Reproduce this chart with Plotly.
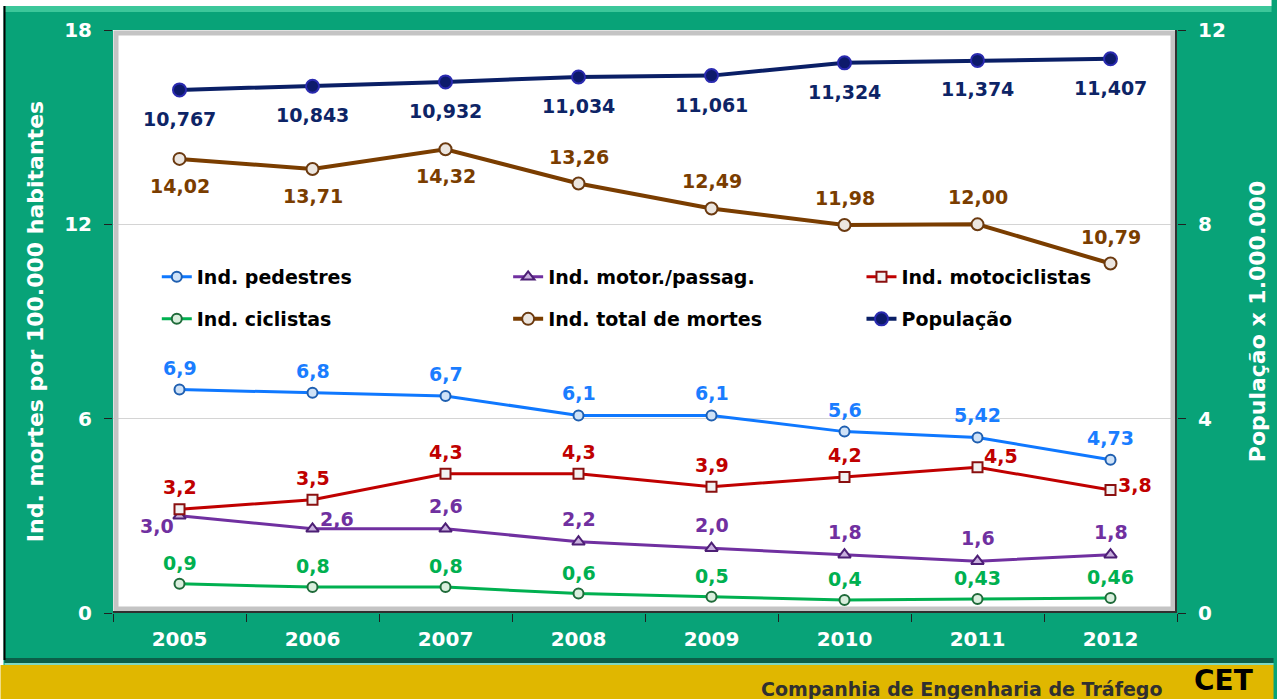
import plotly.graph_objects as go

years = ["2005", "2006", "2007", "2008", "2009", "2010", "2011", "2012"]
pedestres = [6.9, 6.8, 6.7, 6.1, 6.1, 5.6, 5.42, 4.73]
motor_passag = [3.0, 2.6, 2.6, 2.2, 2.0, 1.8, 1.6, 1.8]
motociclistas = [3.2, 3.5, 4.3, 4.3, 3.9, 4.2, 4.5, 3.8]
ciclistas = [0.9, 0.8, 0.8, 0.6, 0.5, 0.4, 0.43, 0.46]
total_mortes = [14.02, 13.71, 14.32, 13.26, 12.49, 11.98, 12.00, 10.79]
populacao = [10.767, 10.843, 10.932, 11.034, 11.061, 11.324, 11.374, 11.407]

W, H = 1277, 699
PX0, PX1, PY0, PY1 = 113, 1182, 30, 613


def px(x):
    return (x - PX0) / (PX1 - PX0)


def py(y):
    return (PY1 - y) / (PY1 - PY0)


FONT = "DejaVu Sans, Verdana, sans-serif"
GREEN_BG = "#08a378"

fig = go.Figure()
annotations = []


def fmt(v, dec):
    return f"{v:.{dec}f}".replace(".", ",")


def add(name, y, color, lw, symbol, fill, edge, size, legend, decs, shifts, yaxis="y", tcolor=None):
    fig.add_trace(go.Scatter(
        x=years, y=y, name=name, mode="lines+markers",
        line=dict(color=color, width=lw),
        marker=dict(symbol=symbol, size=size, color=fill, line=dict(color=edge, width=2)),
        legend=legend, yaxis=yaxis, cliponaxis=False,
    ))
    for i, yv in enumerate(y):
        dx, dy = shifts[i]
        annotations.append(dict(
            x=i, y=yv, xref="x", yref=yaxis, text=fmt(yv, decs[i]), showarrow=False,
            xanchor="center", yanchor="middle", xshift=dx, yshift=dy,
            font=dict(family=FONT, size=19, color=tcolor or color, weight="bold"),
        ))


add("Ind. pedestres", pedestres, "#0f78ff", 3, "circle", "#cfe2f7", "#1f5fb0", 10, "legend",
    [1] * 6 + [2] * 2, [(0, 22)] * 8, tcolor="#1a7dff")
add("Ind. motor./passag.", motor_passag, "#7030a0", 3, "triangle-up", "#c8b0dd", "#4d1f75", 11, "legend2",
    [1] * 8, [(-23, -10), (24, 10)] + [(0, 23)] * 6)
add("Ind. motociclistas", motociclistas, "#c00000", 3, "square", "#f2f2f2", "#8a1010", 10, "legend3",
    [1] * 8, [(0, 22)] * 6 + [(23, 11), (24, 5)])
add("Ind. ciclistas", ciclistas, "#00b050", 3, "circle", "#d9eedd", "#1f6b3a", 10, "legend4",
    [1] * 6 + [2] * 2, [(0, 21)] * 8)
add("Ind. total de mortes", total_mortes, "#7a3d00", 4, "circle", "#ece6e0", "#6b3a10", 12, "legend5",
    [2] * 8, [(0, -27)] * 3 + [(0, 27)] * 5)
add("População", populacao, "#0a1f66", 4, "circle", "#0d1a6b", "#2a2ab0", 13, "legend6",
    [3] * 8, [(0, -29)] * 8, yaxis="y2", tcolor="#0d2466")

tickfont = dict(family=FONT, size=20, color="white", weight="bold")

shapes = [
    dict(type="rect", xref="paper", yref="paper", x0=px(0), x1=px(W), y0=py(6), y1=py(-2),
         fillcolor="white", line_width=0, layer="below"),
    dict(type="rect", xref="paper", yref="paper", x0=px(-2), x1=px(3), y0=py(700), y1=py(0),
         fillcolor="white", line_width=0, layer="below"),
    dict(type="line", xref="paper", yref="paper", x0=px(4), x1=px(4), y0=py(660), y1=py(6),
         line=dict(color="black", width=2)),
    dict(type="rect", xref="paper", yref="paper", x0=px(4), x1=px(W), y0=py(12), y1=py(6),
         fillcolor="#3cc79a", line_width=0, layer="below"),
    dict(type="rect", xref="paper", yref="paper", x0=px(4), x1=px(W + 2), y0=py(663), y1=py(658),
         fillcolor="#0b5e48", line_width=0, layer="below"),
    dict(type="rect", xref="paper", yref="paper", x0=px(4), x1=px(W + 2), y0=py(665), y1=py(663),
         fillcolor="#7fd8c0", line_width=0, layer="below"),
    dict(type="rect", xref="paper", yref="paper", x0=px(0), x1=px(W + 2), y0=py(H + 2), y1=py(665),
         fillcolor="#e0b700", line_width=0, layer="below"),
    dict(type="rect", xref="paper", yref="paper", x0=px(PX0 + 3), x1=px(PX1 - 4), y0=py(PY1 - 4), y1=py(PY0 + 3),
         line=dict(color="#c4c4c4", width=5), layer="above"),
    dict(type="line", xref="paper", yref="paper", x0=px(PX1 - 1), x1=px(PX1 - 1), y0=py(PY1), y1=py(PY0),
         line=dict(color="#303030", width=2)),
    dict(type="line", xref="paper", yref="paper", x0=px(PX0), x1=px(PX1), y0=py(PY1 - 1), y1=py(PY1 - 1),
         line=dict(color="#303030", width=2)),
]

annotations += [
    dict(text="Companhia de Engenharia de Tráfego", xref="paper", yref="paper",
         x=px(965), y=py(689), xanchor="center", yanchor="middle", showarrow=False,
         font=dict(family=FONT, size=19, color="#303030", weight="bold")),
    dict(text="CET", xref="paper", yref="paper",
         x=px(1229), y=py(699), xanchor="center", yanchor="bottom", showarrow=False,
         font=dict(family=FONT, size=28, color="black", weight="bold")),
]

legend_common = dict(orientation="h", xanchor="left", yanchor="middle", bgcolor="rgba(0,0,0,0)",
                     font=dict(family=FONT, size=19, color="black", weight="bold"),
                     itemwidth=30)

legend_pos = {
    "legend": (157, 277), "legend2": (510, 277), "legend3": (865, 277),
    "legend4": (157, 319), "legend5": (510, 319), "legend6": (865, 319),
}
legends = {k: dict(x=px(x), y=py(y), **legend_common) for k, (x, y) in legend_pos.items()}

fig.update_layout(
    width=W, height=H,
    margin=dict(l=PX0, r=W - PX1, t=PY0, b=H - PY1),
    paper_bgcolor=GREEN_BG, plot_bgcolor="white",
    separators=",.",
    font=dict(family=FONT),
    showlegend=True,
    xaxis=dict(type="category", tickson="boundaries", ticks="outside", ticklen=8,
               tickcolor="#202020", tickfont=tickfont, showgrid=False, showline=False,
               zeroline=False, range=[-0.5, 7.5], ticklabelstandoff=12),
    yaxis=dict(range=[0, 18], tickvals=[0, 6, 12, 18], ticks="outside", ticklen=8,
               tickcolor="#202020", tickfont=tickfont, showgrid=True, gridcolor="#d4d4d4",
               gridwidth=1, zeroline=False, showline=False, ticklabelstandoff=8,
               title=dict(text="Ind. mortes por 100.000 habitantes", standoff=14,
                          font=dict(family=FONT, size=22, color="white", weight="bold"))),
    yaxis2=dict(range=[0, 12], tickvals=[0, 4, 8, 12], overlaying="y", side="right",
                ticks="outside", ticklen=8, tickcolor="#202020", tickfont=tickfont,
                showgrid=False, zeroline=False, showline=False, ticklabelstandoff=8,
                title=dict(text="População x 1.000.000", standoff=24,
                           font=dict(family=FONT, size=22, color="white", weight="bold"))),
    shapes=shapes,
    annotations=annotations,
    **legends,
)

fig.write_html("out.html", post_script="document.body.style.margin='0';",
               config={"displayModeBar": False})
